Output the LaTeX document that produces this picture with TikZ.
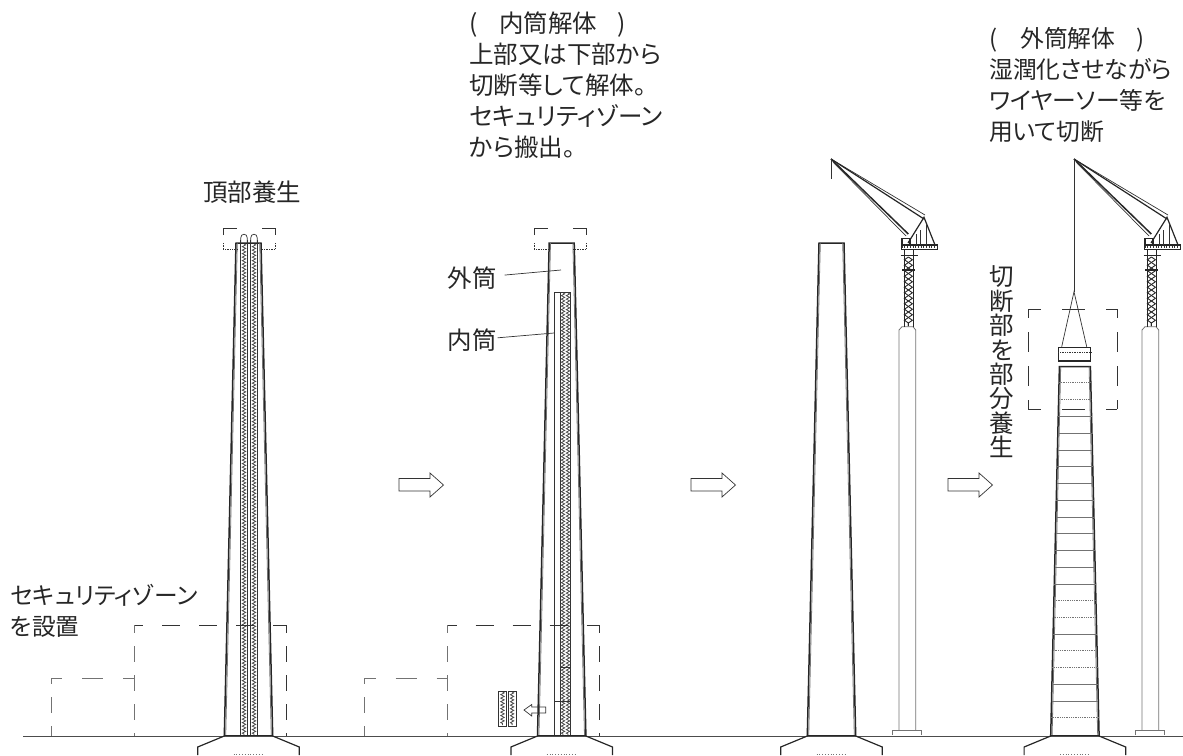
\documentclass[tikz,border=0pt]{standalone}
\usepackage{fontspec}
\newfontfamily\cjk[RawFeature=+palt]{Noto Sans CJK JP}
\usetikzlibrary{decorations.pathmorphing}

\tikzset{
	outline/.style={line width=1.2pt, color=black!85},
	thin line/.style={line width=0.7pt, color=black!80},
	pale line/.style={line width=0.8pt, color=black!55},
	hatch/.style={line width=0.8pt, color=black!70, decorate, decoration={zigzag, amplitude=1.7pt, segment length=3.5pt}},
	lattice/.style={line width=0.9pt, color=black!85, decorate, decoration={zigzag, amplitude=4pt, segment length=11pt}},
	caption/.style={inner sep=0pt, font=\cjk\fontsize{24.5}{31}\selectfont, text=black!85, align=left},
}
\newcommand{\drawcrane}[1]{
	\begin{scope}[xshift=#1pt]
		\draw[pale line] (899,730) -- (899,330) -- (902,326.7) -- (913,326.7) -- (915.7,330) -- (915.7,730);
		\draw[pale line] (892,735) -- (892,730) -- (921.7,730) -- (921.7,735);
		\draw[lattice] (908.4,257) -- (908.4,326);
		\draw[lattice, decoration={mirror}] (908.4,257) -- (908.4,326);
		\draw[outline, line width=1pt] (904,249) -- (904,326.7);
		\draw[outline, line width=1pt] (913,249) -- (913,326.7);
		\draw[outline] (902,270) -- (915,270);
		\draw[outline, line width=1.6pt] (900.7,255.5) -- (918,255.5);
		\draw[thin line, dotted, line width=1.2pt] (901.7,247) -- (937.3,247);
		\draw[outline] (901.7,249.5) -- (937.3,249.5) -- (937.3,245) -- (901.7,245) -- cycle;
		\draw[outline] (902,245) -- (902,238.5) -- (910,238.5) -- (910,245);
		\draw[outline] (908,243) -- (924,217.3) -- (935,245);
		\draw[thin line] (920,230) -- (920,245);
		\draw[thin line] (916.5,234) -- (916.5,245);
		\draw[thin line] (926,224) -- (926,245);
		\draw[thin line] (831,159) -- (925,215);
		\draw[outline] (831,159) -- (924,219);
		\draw[outline, line width=1.5pt] (831,159) -- (908.3,234);
		\draw[thin line] (833,162) -- (906,236);
	\end{scope}
}

\begin{document}
\begin{tikzpicture}[x=1pt, y=-1pt]
	\useasboundingbox (0,0) rectangle (1183,755);

	\draw[line width=0.9pt, color=black!70] (23,736) -- (1183,736); % ground

	% towers and footings
	\foreach \cx in {248.5,561.7,831.5,1074.9}{
		\draw[outline] (\cx-24.2,736) -- (\cx-50.8,747) -- (\cx-50.8,755);
		\draw[outline] (\cx+24.2,736) -- (\cx+50.8,747) -- (\cx+50.8,755);
		\draw[pale line, dotted] (\cx-15,754) -- (\cx+15,754);
		\ifdim\cx pt<1000pt
			\draw[outline, line width=1.5pt] (\cx-24.2,736) -- (\cx-12.5,243) -- (\cx+12.5,243) -- (\cx+24.2,736);
			\draw[pale line] (\cx-22.8,736) -- (\cx-11.2,243);
			\draw[pale line] (\cx+22.8,736) -- (\cx+11.2,243);
		\else
			\draw[outline, line width=1.5pt] (\cx-24.2,736) -- (\cx-15.5,366.7) -- (\cx+15.5,366.7) -- (\cx+24.2,736);
			\draw[pale line] (\cx-22.8,736) -- (\cx-14.2,366.7);
			\draw[pale line] (\cx+22.8,736) -- (\cx+14.2,366.7);
		\fi
		\draw[outline, line width=1.6pt] (\cx-24.2,735.5) -- (\cx+24.2,735.5);
	}

	% inner flues, first tower
	\foreach \lx in {240.7,247.3,250.7,257.3}{
		\draw[thin line] (\lx,240) -- (\lx,735);
	}
	\foreach \lx in {244,254}{
		\draw[hatch] (\lx,244) -- (\lx,735);
		\draw[thin line] (\lx-3.3,243) -- (\lx-3.3,238) .. controls (\lx-3.3,233) and (\lx+3.3,233) .. (\lx+3.3,238) -- (\lx+3.3,243);
	}
	% inner flue, second tower
	\draw[thin line] (554.3,735) -- (554.3,292) -- (570.7,292) -- (570.7,735);
	\draw[thin line] (560,292) -- (560,735);
	\foreach \lx in {563,568}{
		\draw[hatch] (\lx,293) -- (\lx,735);
	}
	\draw[thin line] (554.3,701) -- (570.7,701);
	\draw[thin line] (560,667) -- (570.7,667);

	% top covers
	\foreach \ox in {0,311}{
		\begin{scope}[xshift=\ox pt]
			\draw[thin line] (223,235) |- (237,228);
			\draw[thin line] (262,228) -| (275,235);
			\draw[thin line, densely dotted] (223,243) |- (237,249.5);
			\draw[thin line, densely dotted] (275,243) |- (262,249.5);
		\end{scope}
	}

	% security zones
	\foreach \ox in {0,313.5}{
		\begin{scope}[xshift=\ox pt]
			\draw[thin line, dash pattern=on 18pt off 19pt, dash phase=9pt] (134,625) -- (286,625);
			\draw[pale line, dash pattern=on 16pt off 13pt, dash phase=8pt] (134,625) -- (134,736);
			\draw[thin line, dash pattern=on 16pt off 13pt, dash phase=8pt] (286,625) -- (286,736);
			\draw[pale line, dash pattern=on 21pt off 20pt, dash phase=10pt] (51,678) -- (134,678);
			\draw[pale line, dash pattern=on 16pt off 13pt, dash phase=10pt] (51,678) -- (51,736);
		\end{scope}
	}

	% cutting zone cover
	\draw[thin line, dash pattern=on 23pt off 21pt, dash phase=10pt] (1028.3,309) -- (1117.3,309);
	\draw[thin line, dash pattern=on 23pt off 21pt, dash phase=10pt] (1028.3,409) -- (1117.3,409);
	\draw[thin line, dash pattern=on 20pt off 14pt, dash phase=11pt] (1028.3,309) -- (1028.3,409);
	\draw[thin line, dash pattern=on 20pt off 14pt, dash phase=11pt] (1117.3,309) -- (1117.3,409);

	% step arrows
	\foreach \ax in {399,691,948}{
		\draw[thin line] (\ax,478.5) -- (\ax+31,478.5) -- (\ax+31,473) -- (\ax+44.5,485) -- (\ax+31,497) -- (\ax+31,491) -- (\ax,491) -- cycle;
	}
	\draw[thin line] (545.7,707) -- (531.7,707) -- (531.7,704.5) -- (524,710) -- (531.7,716) -- (531.7,713) -- (545.7,713) -- cycle;
	\foreach \px in {498.7,508.3}{
		\draw[thin line] (\px,691) rectangle (\px+7.6,726);
		\draw[hatch] (\px+3.8,692) -- (\px+3.8,725);
	}

	% cranes
	\drawcrane{0}
	\drawcrane{243}
	\draw[thin line] (831,159) -- (831,179.3);

	% lifted section
	\draw[thin line] (1074,159) -- (1074,291.7);
	\draw[thin line] (1061.7,346.7) -- (1074,291.7) -- (1086.7,346.7);
	\draw[outline, line width=1.4pt] (1058.3,347.3) -- (1090.7,347.3) -- (1090.7,361) -- (1058.3,361) -- cycle;
	\draw[thin line, densely dotted] (1058.3,352.7) -- (1090.7,352.7);

	% joints of the outer tube
	\foreach \jy/\js in {382.7/densely dotted,399.3/densely dotted,416.7/solid,433.3/solid,450/solid,466.8/solid,483.5/solid,500.3/solid,517/solid,533.8/solid,550.5/solid,567.3/solid,584/solid,600.8/densely dotted,617.5/densely dotted,634/solid,650.7/densely dotted,667.3/densely dotted,684/solid,701/solid,717.7/densely dotted}{
		\pgfmathsetmacro{\hw}{12.5+(\jy-243)*11.7/493}
		\draw[pale line, \js] (1074.9-\hw,\jy) -- (1074.9+\hw,\jy);
	}

	% labels
	\node[caption, anchor=center] (lbltop) at (252,192) {頂部養生};
	\node[caption, anchor=north west, font=\cjk\fontsize{23.7}{31.5}\selectfont] (lblzone) at (10,584) {セキュリティゾーン\\を設置};
	\node[caption, anchor=north west] (lblinner) at (469,12) {(\hspace{22pt}内筒解体\hspace{20pt})\\上部又は下部から\\切断等して解体。\\セキュリティゾーン\\から搬出。};
	\node[caption, anchor=north west, font=\cjk\fontsize{23.8}{31}\selectfont] (lblouter) at (989,27) {(\hspace{23pt}外筒解体\hspace{21pt})\\湿潤化させながら\\ワイヤーソー等を\\用いて切断};
	\node[caption, anchor=center] (lblshell) at (472,278) {外筒};
	\node[caption, anchor=center] (lblflue) at (472,340) {内筒};
	\foreach \ch [count=\i] in {切,断,部,を,部,分,養,生}{
		\node[caption, anchor=center] (lblcut\i) at (1001.7,{277+(\i-1)*24.3}) {\ch};
	}

	\coordinate (ptshell) at (561,270);
	\coordinate (ptflue) at (554,333);
	\draw[thin line, shorten <=8pt] (lblshell) -- (ptshell);
	\draw[thin line, shorten <=1pt] (lblflue) -- (ptflue);
\end{tikzpicture}
\end{document}
